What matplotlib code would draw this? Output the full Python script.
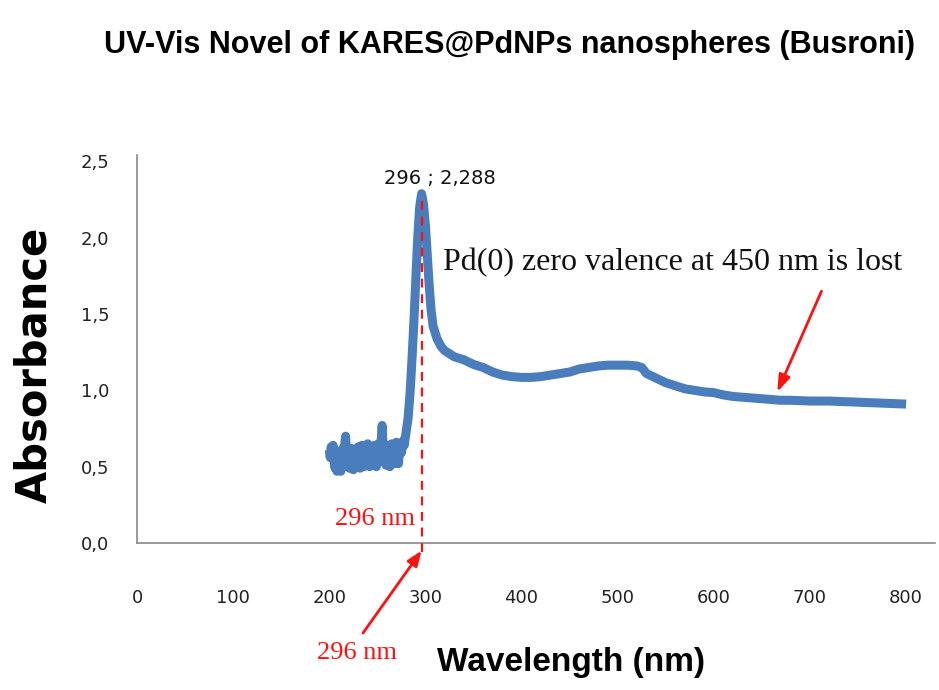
import numpy as np
import matplotlib
matplotlib.use('Agg')
import matplotlib.pyplot as plt
from matplotlib.ticker import FuncFormatter

# ---------- data ----------
# noisy baseline, 1 nm steps 200..280
noise_wl = list(range(200, 281))
noise_abs = [0.61, 0.56, 0.63, 0.57, 0.64, 0.53, 0.49, 0.56, 0.47, 0.53,
             0.60, 0.51, 0.47, 0.55, 0.62, 0.55, 0.64, 0.70, 0.57, 0.50,
             0.58, 0.49, 0.54, 0.62, 0.52, 0.48, 0.56, 0.61, 0.50, 0.57,
             0.63, 0.53, 0.49, 0.59, 0.64, 0.55, 0.50, 0.61, 0.53, 0.62,
             0.65, 0.56, 0.50, 0.59, 0.63, 0.52, 0.60, 0.64, 0.55, 0.50,
             0.60, 0.65, 0.56, 0.61, 0.67, 0.77, 0.63, 0.53, 0.61, 0.51,
             0.58, 0.64, 0.56, 0.50, 0.60, 0.65, 0.57, 0.62, 0.52, 0.61,
             0.66, 0.57, 0.52, 0.61, 0.65, 0.59, 0.63, 0.67, 0.64, 0.69,
             0.73]
# peak and visible region
main_wl = [282, 284, 286, 288, 290, 292, 294, 296, 298, 300, 302, 304, 306, 308, 312,
           316, 320, 325, 330, 340, 350, 360, 370, 380, 390, 400, 410, 420, 430, 440,
           450, 460, 470, 480, 490, 500, 510, 520, 525, 530, 540, 550, 560, 570, 580,
           590, 600, 610, 620, 630, 640, 650, 660, 670, 680, 700, 720, 740, 760, 780, 800]
main_abs = [0.82, 0.98, 1.20, 1.45, 1.72, 2.00, 2.20, 2.288, 2.22, 2.08, 1.88, 1.68, 1.52, 1.42, 1.34,
            1.29, 1.26, 1.24, 1.22, 1.20, 1.17, 1.15, 1.12, 1.10, 1.09, 1.085, 1.085, 1.09, 1.10, 1.11,
            1.12, 1.14, 1.15, 1.16, 1.165, 1.165, 1.165, 1.16, 1.15, 1.11, 1.08, 1.05, 1.03, 1.01, 1.00,
            0.99, 0.985, 0.97, 0.96, 0.955, 0.95, 0.945, 0.94, 0.935, 0.935, 0.93, 0.93, 0.925, 0.92, 0.915, 0.91]
x_ticks = [0, 100, 200, 300, 400, 500, 600, 700, 800]
y_ticks = [0.0, 0.5, 1.0, 1.5, 2.0, 2.5]
peak_wl, peak_abs = 296, 2.288
lost_wl, lost_abs = 666, 0.94

BLUE = '#4a7dbb'
RED = '#ff1010'
SANS = ['Liberation Sans', 'DejaVu Sans']
SERIF = ['Liberation Serif', 'DejaVu Serif']

fig = plt.figure(figsize=(9.39, 6.90), dpi=100)
ax = fig.add_axes([0.1459, 0.213, 0.8498, 0.562])

ax.plot(noise_wl + main_wl, noise_abs + main_abs, color=BLUE, lw=6.5,
        solid_joinstyle='round', solid_capstyle='butt', zorder=3)

ax.set_xlim(0, 830)
ax.set_ylim(0, 2.54)
ax.set_xticks(x_ticks)
ax.set_yticks(y_ticks)
ax.yaxis.set_major_formatter(FuncFormatter(lambda v, p: f'{v:.1f}'.replace('.', ',')))
ax.tick_params(length=0, labelsize=13, labelcolor='#222222')
ax.tick_params(axis='x', pad=33)
ax.tick_params(axis='y', pad=20)
for s in ['top', 'right']:
    ax.spines[s].set_visible(False)
for s in ['left', 'bottom']:
    ax.spines[s].set_color('#888888')
    ax.spines[s].set_linewidth(1.2)

# peak marker line + labels
ax.plot([peak_wl, peak_wl], [-0.06, peak_abs], color=RED, lw=1.6, dashes=(4, 3),
        clip_on=False, zorder=4)
ax.annotate(f'{peak_wl} ; {peak_abs:.3f}'.replace('.', ','), xy=(peak_wl, peak_abs),
            xytext=(13, 11), textcoords='offset points', ha='center', va='center',
            fontsize=14, color='#111111')
ax.text(peak_wl - 7, 0.16, f'{peak_wl} nm', color=RED, fontsize=19, family=SERIF,
        ha='right', va='center')

# arrow under the axis pointing at the peak wavelength
ax.annotate('', xy=(peak_wl, -0.05), xytext=(235, -0.59), annotation_clip=False,
            arrowprops=dict(arrowstyle='-|>,head_length=0.9,head_width=0.35', color=RED,
                            lw=2, shrinkA=0, shrinkB=0))
fig.text(0.380, 0.054, f'{peak_wl} nm', ha='center', va='center', color=RED,
         fontsize=19, family=SERIF)

# "lost" note with its arrow
fig.text(0.716, 0.620, 'Pd(0) zero valence at 450 nm is lost', ha='center', va='center',
         fontsize=23, family=SERIF, color='#111111')
ax.annotate('', xy=(lost_wl, lost_abs + 0.05), xytext=(712, 1.65), annotation_clip=False,
            arrowprops=dict(arrowstyle='-|>,head_length=1.0,head_width=0.35', color=RED,
                            lw=2, shrinkA=0, shrinkB=0))

fig.text(0.543, 0.935, 'UV-Vis Novel of KARES@PdNPs nanospheres (Busroni)',
         ha='center', va='center', fontsize=22, fontweight='bold', family=SANS)
fig.text(0.608, 0.040, 'Wavelength (nm)', ha='center', va='center', fontsize=24,
         fontweight='bold', family=SANS)
fig.text(0.037, 0.471, 'Absorbance', ha='center', va='center', rotation=90,
         fontsize=30, fontweight='bold')

fig.savefig('out.png', dpi=100)
